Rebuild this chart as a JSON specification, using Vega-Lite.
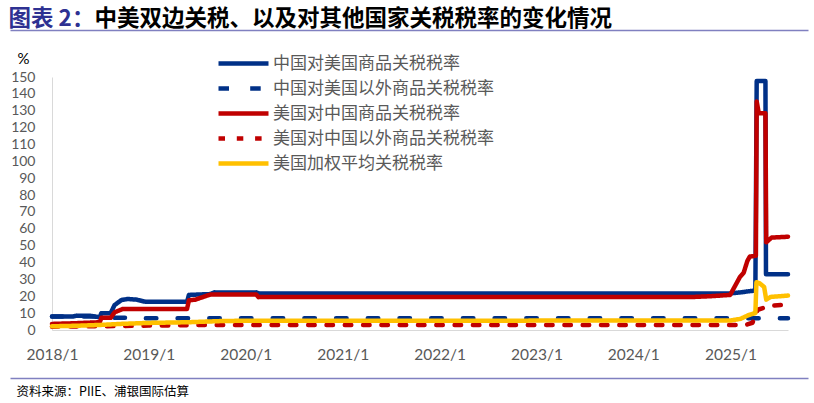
{
  "$schema": "https://vega.github.io/schema/vega-lite/v6.json",
  "width": 736,
  "height": 253,
  "autosize": {"type": "none"},
  "padding": {"left": 52, "top": 77, "right": 26, "bottom": 73},
  "background": "white",
  "config": {"view": {"stroke": null}, "font": "Noto Sans CJK SC"},
  "data": {"values": [
    {"date": "2018-01-01", "series": "中国对美国商品关税税率", "value": 8.0},
    {"date": "2018-03-20", "series": "中国对美国商品关税税率", "value": 8.0},
    {"date": "2018-04-05", "series": "中国对美国商品关税税率", "value": 8.5},
    {"date": "2018-05-25", "series": "中国对美国商品关税税率", "value": 8.4},
    {"date": "2018-06-15", "series": "中国对美国商品关税税率", "value": 7.9},
    {"date": "2018-06-30", "series": "中国对美国商品关税税率", "value": 7.6},
    {"date": "2018-07-06", "series": "中国对美国商品关税税率", "value": 10.0},
    {"date": "2018-08-10", "series": "中国对美国商品关税税率", "value": 10.0},
    {"date": "2018-08-25", "series": "中国对美国商品关税税率", "value": 14.8},
    {"date": "2018-09-20", "series": "中国对美国商品关税税率", "value": 17.8},
    {"date": "2018-10-15", "series": "中国对美国商品关税税率", "value": 18.4},
    {"date": "2018-11-15", "series": "中国对美国商品关税税率", "value": 18.0},
    {"date": "2018-12-20", "series": "中国对美国商品关税税率", "value": 16.7},
    {"date": "2019-05-25", "series": "中国对美国商品关税税率", "value": 16.7},
    {"date": "2019-06-01", "series": "中国对美国商品关税税率", "value": 20.8},
    {"date": "2019-08-20", "series": "中国对美国商品关税税率", "value": 21.3},
    {"date": "2019-09-05", "series": "中国对美国商品关税税率", "value": 22.3},
    {"date": "2020-02-10", "series": "中国对美国商品关税税率", "value": 22.3},
    {"date": "2020-02-20", "series": "中国对美国商品关税税率", "value": 21.7},
    {"date": "2024-12-31", "series": "中国对美国商品关税税率", "value": 21.7},
    {"date": "2025-02-08", "series": "中国对美国商品关税税率", "value": 22.3},
    {"date": "2025-03-08", "series": "中国对美国商品关税税率", "value": 22.9},
    {"date": "2025-04-05", "series": "中国对美国商品关税税率", "value": 23.4},
    {"date": "2025-04-10", "series": "中国对美国商品关税税率", "value": 147.6},
    {"date": "2025-05-13", "series": "中国对美国商品关税税率", "value": 147.6},
    {"date": "2025-05-15", "series": "中国对美国商品关税税率", "value": 33.0},
    {"date": "2025-08-06", "series": "中国对美国商品关税税率", "value": 33.0},

    {"date": "2018-01-01", "series": "中国对美国以外商品关税税率", "value": 8.0},
    {"date": "2018-06-30", "series": "中国对美国以外商品关税税率", "value": 8.0},
    {"date": "2018-07-02", "series": "中国对美国以外商品关税税率", "value": 7.2},
    {"date": "2018-10-31", "series": "中国对美国以外商品关税税率", "value": 7.2},
    {"date": "2018-11-01", "series": "中国对美国以外商品关税税率", "value": 6.9},
    {"date": "2025-08-06", "series": "中国对美国以外商品关税税率", "value": 6.9},

    {"date": "2018-01-01", "series": "美国对中国商品关税税率", "value": 3.6},
    {"date": "2018-03-25", "series": "美国对中国商品关税税率", "value": 4.0},
    {"date": "2018-06-30", "series": "美国对中国商品关税税率", "value": 4.6},
    {"date": "2018-07-06", "series": "美国对中国商品关税税率", "value": 7.2},
    {"date": "2018-08-10", "series": "美国对中国商品关税税率", "value": 7.2},
    {"date": "2018-08-25", "series": "美国对中国商品关税税率", "value": 10.5},
    {"date": "2018-09-25", "series": "美国对中国商品关税税率", "value": 12.5},
    {"date": "2019-05-25", "series": "美国对中国商品关税税率", "value": 12.5},
    {"date": "2019-06-01", "series": "美国对中国商品关税税率", "value": 17.6},
    {"date": "2019-06-25", "series": "美国对中国商品关税税率", "value": 18.0},
    {"date": "2019-08-20", "series": "美国对中国商品关税税率", "value": 21.0},
    {"date": "2020-02-10", "series": "美国对中国商品关税税率", "value": 21.0},
    {"date": "2020-02-18", "series": "美国对中国商品关税税率", "value": 19.5},
    {"date": "2024-08-01", "series": "美国对中国商品关税税率", "value": 19.5},
    {"date": "2024-10-15", "series": "美国对中国商品关税税率", "value": 20.0},
    {"date": "2024-12-31", "series": "美国对中国商品关税税率", "value": 20.8},
    {"date": "2025-01-25", "series": "美国对中国商品关税税率", "value": 28.0},
    {"date": "2025-02-06", "series": "美国对中国商品关税税率", "value": 31.5},
    {"date": "2025-02-20", "series": "美国对中国商品关税税率", "value": 34.0},
    {"date": "2025-03-06", "series": "美国对中国商品关税税率", "value": 41.0},
    {"date": "2025-03-15", "series": "美国对中国商品关税税率", "value": 43.5},
    {"date": "2025-04-07", "series": "美国对中国商品关税税率", "value": 44.0},
    {"date": "2025-04-10", "series": "美国对中国商品关税税率", "value": 135.5},
    {"date": "2025-04-18", "series": "美国对中国商品关税税率", "value": 128.5},
    {"date": "2025-05-13", "series": "美国对中国商品关税税率", "value": 128.5},
    {"date": "2025-05-16", "series": "美国对中国商品关税税率", "value": 52.0},
    {"date": "2025-06-05", "series": "美国对中国商品关税税率", "value": 54.8},
    {"date": "2025-08-06", "series": "美国对中国商品关税税率", "value": 55.3},

    {"date": "2018-01-01", "series": "美国对中国以外商品关税税率", "value": 2.0},
    {"date": "2018-06-30", "series": "美国对中国以外商品关税税率", "value": 2.2},
    {"date": "2018-12-31", "series": "美国对中国以外商品关税税率", "value": 2.6},
    {"date": "2019-06-30", "series": "美国对中国以外商品关税税率", "value": 2.9},
    {"date": "2019-12-31", "series": "美国对中国以外商品关税税率", "value": 3.0},
    {"date": "2025-02-28", "series": "美国对中国以外商品关税税率", "value": 3.0},
    {"date": "2025-03-25", "series": "美国对中国以外商品关税税率", "value": 4.3},
    {"date": "2025-04-05", "series": "美国对中国以外商品关税税率", "value": 8.0},
    {"date": "2025-04-14", "series": "美国对中国以外商品关税税率", "value": 12.0},
    {"date": "2025-05-15", "series": "美国对中国以外商品关税税率", "value": 13.6},
    {"date": "2025-06-15", "series": "美国对中国以外商品关税税率", "value": 14.5},
    {"date": "2025-08-06", "series": "美国对中国以外商品关税税率", "value": 15.2},

    {"date": "2018-01-01", "series": "美国加权平均关税税率", "value": 2.2},
    {"date": "2018-03-31", "series": "美国加权平均关税税率", "value": 2.5},
    {"date": "2018-06-30", "series": "美国加权平均关税税率", "value": 3.0},
    {"date": "2018-09-30", "series": "美国加权平均关税税率", "value": 3.7},
    {"date": "2018-12-31", "series": "美国加权平均关税税率", "value": 4.2},
    {"date": "2019-05-31", "series": "美国加权平均关税税率", "value": 4.6},
    {"date": "2019-09-30", "series": "美国加权平均关税税率", "value": 5.3},
    {"date": "2019-12-31", "series": "美国加权平均关税税率", "value": 5.5},
    {"date": "2024-12-31", "series": "美国加权平均关税税率", "value": 5.6},
    {"date": "2025-02-08", "series": "美国加权平均关税税率", "value": 6.6},
    {"date": "2025-03-10", "series": "美国加权平均关税税率", "value": 8.8},
    {"date": "2025-04-05", "series": "美国加权平均关税税率", "value": 10.0},
    {"date": "2025-04-09", "series": "美国加权平均关税税率", "value": 28.3},
    {"date": "2025-04-20", "series": "美国加权平均关税税率", "value": 27.8},
    {"date": "2025-05-08", "series": "美国加权平均关税税率", "value": 25.5},
    {"date": "2025-05-16", "series": "美国加权平均关税税率", "value": 18.0},
    {"date": "2025-06-01", "series": "美国加权平均关税税率", "value": 19.6},
    {"date": "2025-08-06", "series": "美国加权平均关税税率", "value": 20.4}
  ]},
  "layer": [
    {
      "mark": {"type": "line", "strokeWidth": 4.5, "strokeCap": "round", "strokeJoin": "round"},
      "encoding": {
        "x": {
          "field": "date", "type": "temporal",
          "scale": {"type": "utc", "domain": [{"year": 2018, "month": 1, "date": 1, "utc": true}, {"year": 2025, "month": 8, "date": 6, "utc": true}]},
          "axis": {
            "values": [
              {"year": 2018, "month": 1, "date": 1, "utc": true},
              {"year": 2019, "month": 1, "date": 1, "utc": true},
              {"year": 2020, "month": 1, "date": 1, "utc": true},
              {"year": 2021, "month": 1, "date": 1, "utc": true},
              {"year": 2022, "month": 1, "date": 1, "utc": true},
              {"year": 2023, "month": 1, "date": 1, "utc": true},
              {"year": 2024, "month": 1, "date": 1, "utc": true},
              {"year": 2025, "month": 1, "date": 1, "utc": true}
            ],
            "labelExpr": "utcFormat(datum.value, '%Y/%-m')",
            "labelFont": "Lato", "labelFontSize": 15.5, "labelColor": "#595959",
            "labelPadding": 17, "labelFlush": false, "labelOverlap": false,
            "ticks": false, "tickSize": 0, "grid": false,
            "domainColor": "#D9D9D9", "domainWidth": 1,
            "title": "资料来源：PIIE、浦银国际估算",
            "titleFont": "Noto Sans CJK SC", "titleFontSize": 12.5, "titleFontWeight": "normal", "titleColor": "#000000",
            "titleX": -36, "titleY": 61, "titleAlign": "left", "titleBaseline": "middle", "titleLimit": 1000
          }
        },
        "y": {
          "field": "value", "type": "quantitative",
          "scale": {"domain": [0, 150], "nice": false},
          "axis": {
            "values": [0, 10, 20, 30, 40, 50, 60, 70, 80, 90, 100, 110, 120, 130, 140, 150],
            "labelFont": "Lato", "labelFontSize": 14, "labelColor": "#595959",
            "labelPadding": 17, "ticks": false, "tickSize": 0, "grid": false,
            "domainColor": "#D9D9D9", "domainWidth": 1,
            "title": "%", "titleAngle": 0, "titleX": -29, "titleY": -19,
            "titleAlign": "center", "titleBaseline": "middle",
            "titleFont": "Lato", "titleFontSize": 15, "titleFontWeight": "normal", "titleColor": "#000000"
          }
        },
        "color": {
          "field": "series", "type": "nominal",
          "scale": {
            "domain": ["中国对美国商品关税税率", "中国对美国以外商品关税税率", "美国对中国商品关税税率", "美国对中国以外商品关税税率", "美国加权平均关税税率"],
            "range": ["#003087", "#003087", "#C00000", "#C00000", "#FFC000"]
          },
          "legend": {
            "orient": "none", "legendX": 179, "legendY": -26, "direction": "vertical",
            "title": null, "padding": 0,
            "symbolType": "M-2.5,0H2.5", "symbolSize": 400, "symbolStrokeWidth": 4.5,
            "labelFont": "Noto Sans CJK SC", "labelFontSize": 17, "labelColor": "#595959",
            "labelOffset": 17, "rowPadding": 3, "labelLimit": 400
          }
        },
        "strokeDash": {
          "field": "series", "type": "nominal",
          "scale": {
            "domain": ["中国对美国商品关税税率", "中国对美国以外商品关税税率", "美国对中国商品关税税率", "美国对中国以外商品关税税率", "美国加权平均关税税率"],
            "range": [[1, 0], [10.5, 21.2], [1, 0], [6.5, 11.8], [1, 0]]
          },
          "legend": {
            "orient": "none", "legendX": 179, "legendY": -26, "direction": "vertical",
            "title": null, "padding": 0,
            "symbolType": "M-2.5,0H2.5", "symbolSize": 400, "symbolStrokeWidth": 4.5,
            "labelFont": "Noto Sans CJK SC", "labelFontSize": 17, "labelColor": "#595959",
            "labelOffset": 17, "rowPadding": 3, "labelLimit": 400
          }
        }
      }
    },
    {
      "mark": {"type": "line", "opacity": 0},
      "encoding": {
        "x": {
          "field": "date", "type": "temporal",
          "scale": {"type": "utc", "range": [-42, 756]},
          "axis": {
            "orient": "top", "offset": 47, "domainColor": "#8080C0", "domainWidth": 1.5,
            "labels": false, "ticks": false, "grid": false,
            "title": "图表 2：", "titleX": -44, "titleY": -12, "titleAlign": "left", "titleBaseline": "middle",
            "titleFont": "Noto Sans CJK SC", "titleFontSize": 22.5, "titleFontWeight": "bold", "titleColor": "#2E3192", "titleLimit": 1000
          }
        }
      }
    },
    {
      "mark": {"type": "line", "opacity": 0},
      "encoding": {
        "x": {
          "field": "date", "type": "temporal",
          "scale": {"type": "utc", "range": [-42, 756]},
          "axis": {
            "orient": "bottom", "offset": 48, "domainColor": "#8080C0", "domainWidth": 1.5,
            "labels": false, "ticks": false, "grid": false,
            "title": "中美双边关税、以及对其他国家关税税率的变化情况", "titleX": 42, "titleY": -360, "titleAlign": "left", "titleBaseline": "middle",
            "titleFont": "Noto Sans CJK SC", "titleFontSize": 22.5, "titleFontWeight": "bold", "titleColor": "#000000", "titleLimit": 1000
          }
        }
      }
    }
  ],
  "resolve": {"scale": {"x": "independent"}, "axis": {"x": "independent"}}
}
